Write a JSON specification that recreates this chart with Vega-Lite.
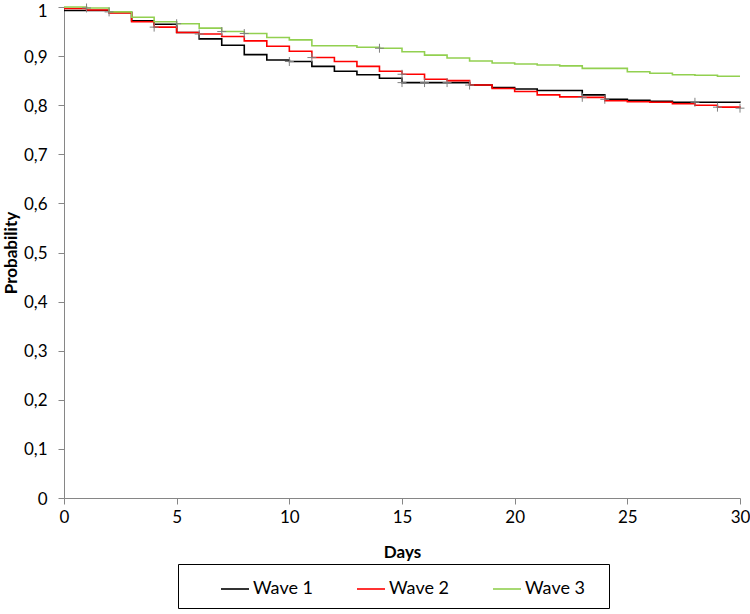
{
  "$schema": "https://vega.github.io/schema/vega-lite/v6.json",
  "width": 676,
  "height": 491,
  "autosize": {"type": "none"},
  "padding": {"left": 64, "top": 7, "right": 10, "bottom": 116},
  "background": "white",
  "config": {
    "view": {"stroke": null},
    "font": "Lato",
    "axis": {
      "grid": false,
      "domainColor": "#868686",
      "tickColor": "#868686",
      "tickSize": 6,
      "labelFontSize": 17,
      "labelColor": "#000000",
      "titleFontSize": 17,
      "titleFontWeight": "bold",
      "titleColor": "#000000",
      "labelFont": "Lato",
      "titleFont": "Lato"
    }
  },
  "datasets": {
    "km": [
      {"series": "Wave 1", "day": 0, "p": 0.993}, {"series": "Wave 1", "day": 1, "p": 0.993}, {"series": "Wave 1", "day": 2, "p": 0.989}, {"series": "Wave 1", "day": 3, "p": 0.972}, {"series": "Wave 1", "day": 4, "p": 0.965}, {"series": "Wave 1", "day": 5, "p": 0.948}, {"series": "Wave 1", "day": 6, "p": 0.935}, {"series": "Wave 1", "day": 7, "p": 0.922}, {"series": "Wave 1", "day": 8, "p": 0.903}, {"series": "Wave 1", "day": 9, "p": 0.892}, {"series": "Wave 1", "day": 10, "p": 0.889}, {"series": "Wave 1", "day": 11, "p": 0.879}, {"series": "Wave 1", "day": 12, "p": 0.869}, {"series": "Wave 1", "day": 13, "p": 0.862}, {"series": "Wave 1", "day": 14, "p": 0.855}, {"series": "Wave 1", "day": 15, "p": 0.846}, {"series": "Wave 1", "day": 16, "p": 0.846}, {"series": "Wave 1", "day": 17, "p": 0.846}, {"series": "Wave 1", "day": 18, "p": 0.841}, {"series": "Wave 1", "day": 19, "p": 0.836}, {"series": "Wave 1", "day": 20, "p": 0.833}, {"series": "Wave 1", "day": 21, "p": 0.830}, {"series": "Wave 1", "day": 22, "p": 0.830}, {"series": "Wave 1", "day": 23, "p": 0.821}, {"series": "Wave 1", "day": 24, "p": 0.812}, {"series": "Wave 1", "day": 25, "p": 0.810}, {"series": "Wave 1", "day": 26, "p": 0.808}, {"series": "Wave 1", "day": 27, "p": 0.806}, {"series": "Wave 1", "day": 28, "p": 0.806}, {"series": "Wave 1", "day": 29, "p": 0.806}, {"series": "Wave 1", "day": 30, "p": 0.805},
      {"series": "Wave 2", "day": 0, "p": 0.997}, {"series": "Wave 2", "day": 1, "p": 0.994}, {"series": "Wave 2", "day": 2, "p": 0.988}, {"series": "Wave 2", "day": 3, "p": 0.970}, {"series": "Wave 2", "day": 4, "p": 0.959}, {"series": "Wave 2", "day": 5, "p": 0.948}, {"series": "Wave 2", "day": 6, "p": 0.945}, {"series": "Wave 2", "day": 7, "p": 0.940}, {"series": "Wave 2", "day": 8, "p": 0.931}, {"series": "Wave 2", "day": 9, "p": 0.920}, {"series": "Wave 2", "day": 10, "p": 0.910}, {"series": "Wave 2", "day": 11, "p": 0.897}, {"series": "Wave 2", "day": 12, "p": 0.889}, {"series": "Wave 2", "day": 13, "p": 0.879}, {"series": "Wave 2", "day": 14, "p": 0.869}, {"series": "Wave 2", "day": 15, "p": 0.863}, {"series": "Wave 2", "day": 16, "p": 0.853}, {"series": "Wave 2", "day": 17, "p": 0.850}, {"series": "Wave 2", "day": 18, "p": 0.841}, {"series": "Wave 2", "day": 19, "p": 0.834}, {"series": "Wave 2", "day": 20, "p": 0.828}, {"series": "Wave 2", "day": 21, "p": 0.821}, {"series": "Wave 2", "day": 22, "p": 0.817}, {"series": "Wave 2", "day": 23, "p": 0.816}, {"series": "Wave 2", "day": 24, "p": 0.809}, {"series": "Wave 2", "day": 25, "p": 0.807}, {"series": "Wave 2", "day": 26, "p": 0.806}, {"series": "Wave 2", "day": 27, "p": 0.803}, {"series": "Wave 2", "day": 28, "p": 0.800}, {"series": "Wave 2", "day": 29, "p": 0.796}, {"series": "Wave 2", "day": 30, "p": 0.794},
      {"series": "Wave 3", "day": 0, "p": 1.0}, {"series": "Wave 3", "day": 1, "p": 0.998}, {"series": "Wave 3", "day": 2, "p": 0.990}, {"series": "Wave 3", "day": 3, "p": 0.979}, {"series": "Wave 3", "day": 4, "p": 0.970}, {"series": "Wave 3", "day": 5, "p": 0.966}, {"series": "Wave 3", "day": 6, "p": 0.957}, {"series": "Wave 3", "day": 7, "p": 0.950}, {"series": "Wave 3", "day": 8, "p": 0.946}, {"series": "Wave 3", "day": 9, "p": 0.938}, {"series": "Wave 3", "day": 10, "p": 0.933}, {"series": "Wave 3", "day": 11, "p": 0.921}, {"series": "Wave 3", "day": 12, "p": 0.921}, {"series": "Wave 3", "day": 13, "p": 0.918}, {"series": "Wave 3", "day": 14, "p": 0.916}, {"series": "Wave 3", "day": 15, "p": 0.909}, {"series": "Wave 3", "day": 16, "p": 0.902}, {"series": "Wave 3", "day": 17, "p": 0.896}, {"series": "Wave 3", "day": 18, "p": 0.890}, {"series": "Wave 3", "day": 19, "p": 0.886}, {"series": "Wave 3", "day": 20, "p": 0.884}, {"series": "Wave 3", "day": 21, "p": 0.882}, {"series": "Wave 3", "day": 22, "p": 0.880}, {"series": "Wave 3", "day": 23, "p": 0.875}, {"series": "Wave 3", "day": 24, "p": 0.875}, {"series": "Wave 3", "day": 25, "p": 0.868}, {"series": "Wave 3", "day": 26, "p": 0.865}, {"series": "Wave 3", "day": 27, "p": 0.862}, {"series": "Wave 3", "day": 28, "p": 0.861}, {"series": "Wave 3", "day": 29, "p": 0.859}, {"series": "Wave 3", "day": 30, "p": 0.859}
    ],
    "cens": [
      {"series": "Wave 3", "day": 1, "p": 0.998}, {"series": "Wave 3", "day": 2, "p": 0.990}, {"series": "Wave 3", "day": 5, "p": 0.966}, {"series": "Wave 3", "day": 7, "p": 0.950}, {"series": "Wave 3", "day": 8, "p": 0.946}, {"series": "Wave 3", "day": 14, "p": 0.916},
      {"series": "Wave 2", "day": 4, "p": 0.959}, {"series": "Wave 2", "day": 6, "p": 0.945}, {"series": "Wave 2", "day": 11, "p": 0.897}, {"series": "Wave 2", "day": 15, "p": 0.863}, {"series": "Wave 2", "day": 23, "p": 0.816}, {"series": "Wave 2", "day": 29, "p": 0.796}, {"series": "Wave 2", "day": 30, "p": 0.794},
      {"series": "Wave 1", "day": 10, "p": 0.889}, {"series": "Wave 1", "day": 15, "p": 0.846}, {"series": "Wave 1", "day": 16, "p": 0.846}, {"series": "Wave 1", "day": 17, "p": 0.846}, {"series": "Wave 1", "day": 18, "p": 0.841}, {"series": "Wave 1", "day": 24, "p": 0.812}, {"series": "Wave 1", "day": 28, "p": 0.806}
    ]
  },
  "layer": [
    {
      "data": {"name": "km"},
      "mark": {"type": "line", "interpolate": "step-after", "strokeWidth": 1.6},
      "encoding": {
        "x": {
          "field": "day", "type": "quantitative",
          "scale": {"domain": [0, 30], "nice": false},
          "axis": {"values": [0, 5, 10, 15, 20, 25, 30], "title": "Days", "labelPadding": 5, "titlePadding": 19, "labelFlush": false}
        },
        "y": {
          "field": "p", "type": "quantitative",
          "scale": {"domain": [0, 1], "nice": false},
          "axis": {
            "values": [0, 0.1, 0.2, 0.3, 0.4, 0.5, 0.6, 0.7, 0.8, 0.9, 1],
            "labelExpr": "replace(format(datum.value, '.1~f'), '.', ',')",
            "title": "Probability", "labelPadding": 11, "titlePadding": 3, "labelFlush": false,
            "labelOffset": {"condition": {"test": "datum.value == 1", "value": 4}, "value": 1}
          }
        },
        "color": {
          "field": "series", "type": "nominal",
          "scale": {"domain": ["Wave 1", "Wave 2", "Wave 3"], "range": ["#000000", "#ff0000", "#92d050"]},
          "legend": {
            "title": " ",
            "titleOrient": "right",
            "titlePadding": 14,
            "titleFontSize": 10,
            "orient": "none",
            "legendX": 114,
            "legendY": 557,
            "direction": "horizontal",
            "strokeColor": "#000000",
            "padding": 10,
            "symbolType": "stroke",
            "symbolSize": 784,
            "symbolStrokeWidth": 1.6,
            "symbolOffset": 32,
            "labelFontSize": 18,
            "labelColor": "#000000",
            "labelOffset": 3,
            "columnPadding": 11
          }
        }
      }
    },
    {
      "data": {"name": "cens"},
      "mark": {"type": "point", "shape": "M-1,0L1,0M0,-1L0,1", "size": 80, "filled": false, "color": "#808080", "stroke": "#808080", "strokeWidth": 1, "opacity": 1},
      "encoding": {
        "x": {"field": "day", "type": "quantitative"},
        "y": {"field": "p", "type": "quantitative"}
      }
    }
  ]
}
